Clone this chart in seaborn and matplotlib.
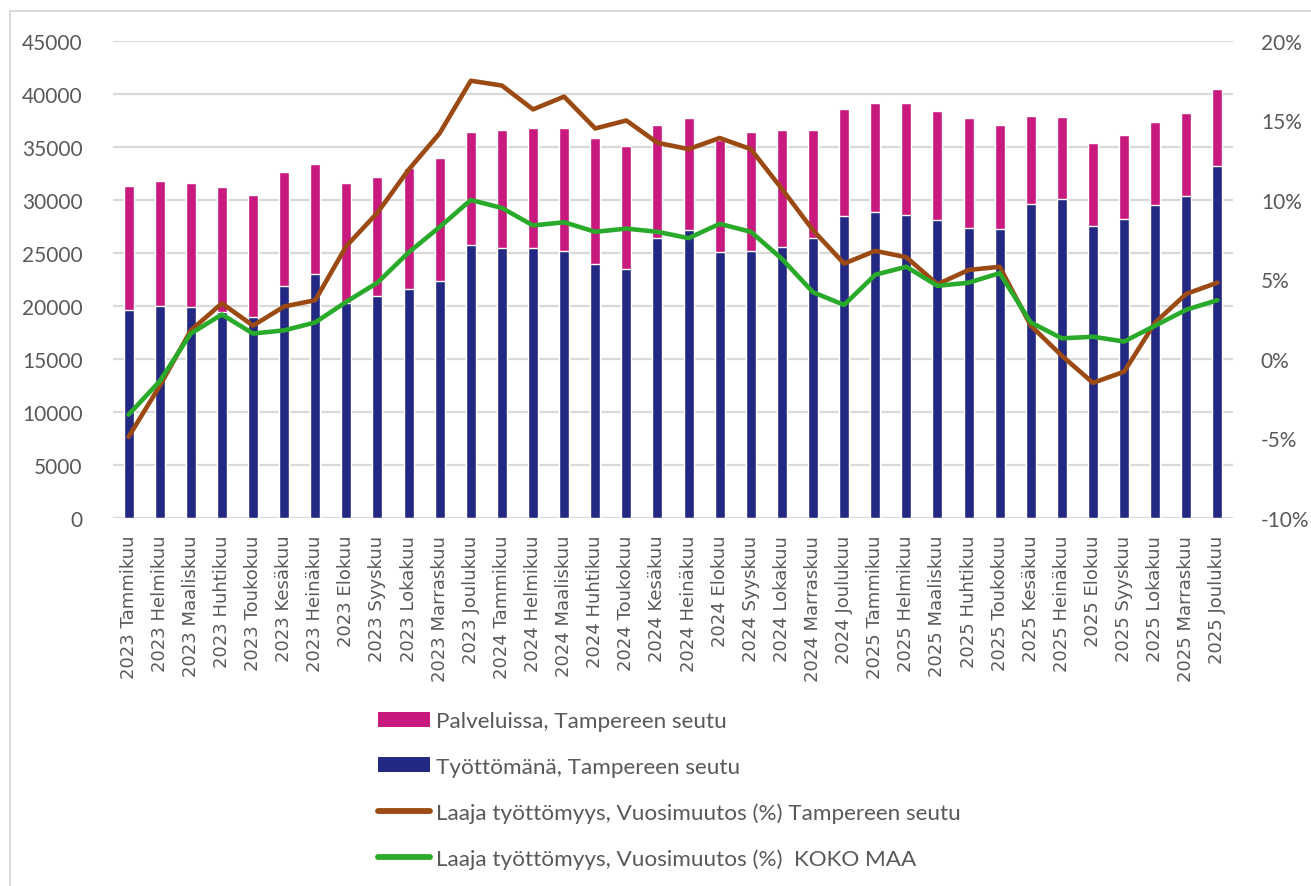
import numpy as np
import pandas as pd
import matplotlib
matplotlib.use('Agg')
import matplotlib.pyplot as plt
import seaborn as sns
from matplotlib.patches import Rectangle, Patch
from matplotlib.lines import Line2D
from matplotlib.ticker import FuncFormatter

kuukaudet = ['Tammikuu', 'Helmikuu', 'Maaliskuu', 'Huhtikuu', 'Toukokuu', 'Kesäkuu',
             'Heinäkuu', 'Elokuu', 'Syyskuu', 'Lokakuu', 'Marraskuu', 'Joulukuu']
vuodet = [2023, 2024, 2025]
labels = ['{} {}'.format(v, k) for v in vuodet for k in kuukaudet]

# Työttömänä, Tampereen seutu
tyottomana = [19650, 20030, 19900, 19400, 18930, 21920, 23020, 20300, 20970, 21600, 22390, 25790,
              25440, 25440, 25190, 23990, 23520, 26420, 27200, 25060, 25190, 25570, 26420, 28460,
              28840, 28590, 28080, 27360, 27230, 29650, 30090, 27580, 28210, 29530, 30350, 33240]
# Palveluissa, Tampereen seutu
palveluissa = [11700, 11790, 11670, 11800, 11570, 10750, 10350, 11270, 11230, 11420, 11600, 10590,
               11200, 11320, 11570, 11830, 11540, 10690, 10540, 10640, 11190, 11070, 10220, 10130,
               10310, 10560, 10350, 10340, 9880, 8310, 7740, 7830, 7920, 7800, 7830, 7230]
# Laaja työttömyys, vuosimuutos (%)
muutos_tampere = [-4.9, -1.7, 1.8, 3.5, 2.1, 3.3, 3.7, 7.1, 9.2, 11.9, 14.2, 17.5,
                  17.2, 15.7, 16.5, 14.5, 15.0, 13.6, 13.2, 13.9, 13.2, 10.7, 8.1, 6.0,
                  6.8, 6.4, 4.7, 5.6, 5.8, 2.1, 0.2, -1.5, -0.8, 2.3, 4.1, 4.8]
muutos_koko_maa = [-3.5, -1.4, 1.6, 2.8, 1.6, 1.8, 2.3, 3.6, 4.8, 6.7, 8.3, 10.0,
                   9.5, 8.4, 8.6, 8.0, 8.2, 8.0, 7.6, 8.5, 8.0, 6.3, 4.2, 3.4,
                   5.3, 5.8, 4.6, 4.8, 5.4, 2.3, 1.3, 1.4, 1.1, 2.1, 3.1, 3.7]

NAVY = '#232882'
MAGENTA = '#C8197F'
BROWN = '#9C4A14'
GREEN = '#2AAA2A'
GRID = '#D9D9D9'
TEXT = '#595959'

df = pd.DataFrame({
    'kk': labels,
    'pos': np.arange(len(labels)),
    'tyottomana': tyottomana,
    'yhteensa': np.array(tyottomana) + np.array(palveluissa),
    'tampere': np.array(muutos_tampere) / 100,
    'koko_maa': np.array(muutos_koko_maa) / 100,
})

sns.set_style('white')
plt.rcParams['font.family'] = ['Lato', 'DejaVu Sans']

fig = plt.figure(figsize=(13.11, 8.87), dpi=100)
ax = fig.add_axes([113 / 1311, 1 - 519 / 887, (1233 - 113) / 1311, (519 - 42) / 887])

sns.barplot(data=df, x='kk', y='yhteensa', color=MAGENTA, width=0.32, saturation=1, ax=ax, zorder=2)
sns.barplot(data=df, x='kk', y='tyottomana', color=NAVY, width=0.32, saturation=1, ax=ax, zorder=3)

ax.set_ylim(0, 45000)
ax.set_xlim(-0.5, len(labels) - 0.5)
ax.set_yticks(np.arange(0, 45001, 5000))
ax.yaxis.grid(True, color=GRID, linewidth=1.6, zorder=0)
ax.set_axisbelow(True)
for s in ax.spines.values():
    s.set_visible(False)
ax.set_xlabel('')
ax.set_ylabel('')
ax.tick_params(axis='y', labelsize=15, labelcolor=TEXT, length=0, pad=22)
ax.tick_params(axis='x', labelsize=13, labelcolor=TEXT, length=0, pad=12)
ax.set_xticks(range(len(labels)))
ax.set_xticklabels(labels, rotation=90, family=['DejaVu Sans'])

ax2 = ax.twinx()
sns.lineplot(data=df, x='pos', y='tampere', color=BROWN, linewidth=3.3, ax=ax2, zorder=4)
sns.lineplot(data=df, x='pos', y='koko_maa', color=GREEN, linewidth=3.3, ax=ax2, zorder=5)
ax2.set_ylim(-0.10, 0.20)
ax2.set_yticks(np.arange(-0.10, 0.2001, 0.05))
ax2.yaxis.set_major_formatter(FuncFormatter(lambda v, p: '{:.0f}%'.format(v * 100)))
ax2.tick_params(axis='y', labelsize=15, labelcolor=TEXT, length=0, pad=20)
ax2.set_xlim(-0.5, len(labels) - 0.5)
ax2.set_xlabel('')
ax2.set_ylabel('')
ax2.grid(False)
for s in ax2.spines.values():
    s.set_visible(False)

handles = [
    Patch(facecolor=MAGENTA, edgecolor='none'),
    Patch(facecolor=NAVY, edgecolor='none'),
    Line2D([], [], color=BROWN, linewidth=4.2, solid_capstyle='round'),
    Line2D([], [], color=GREEN, linewidth=4.2, solid_capstyle='round'),
]
names = ['Palveluissa, Tampereen seutu',
         'Työttömänä, Tampereen seutu',
         'Laaja työttömyys, Vuosimuutos (%) Tampereen seutu',
         'Laaja työttömyys, Vuosimuutos (%)  KOKO MAA']
fig.legend(handles, names, loc='upper left', bbox_to_anchor=(358 / 1311, 1 - 692 / 887),
           frameon=False, fontsize=16.2, labelcolor=TEXT, handlelength=2.3, handleheight=0.62,
           handletextpad=0.26, labelspacing=1.13)

fig.patches.append(Rectangle((10 / 1311, -0.01), 1.1, 1 - 12 / 887 + 0.01, transform=fig.transFigure,
                             fill=False, edgecolor=GRID, linewidth=1.5, zorder=0))

fig.savefig('out.png', dpi=100, facecolor='white')
